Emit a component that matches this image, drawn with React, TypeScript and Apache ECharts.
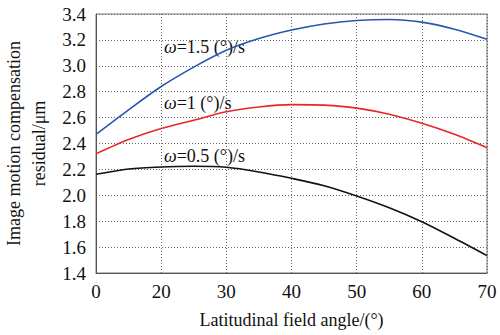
import React, { useEffect, useRef } from "react";
import * as echarts from "echarts";

const X_VALUES = [10, 15, 20, 25, 30, 35, 40, 45, 50, 55, 60, 65, 70];
const X_TICK_LABELS = ["0", "20", "30", "40", "50", "60", "70"];
const OMEGA_15 = [2.47, 2.66, 2.84, 2.99, 3.12, 3.21, 3.276, 3.323, 3.35, 3.358, 3.337, 3.283, 3.205];
const OMEGA_1 = [2.32, 2.43, 2.515, 2.58, 2.645, 2.682, 2.7, 2.696, 2.673, 2.626, 2.556, 2.471, 2.368];
const OMEGA_05 = [2.162, 2.203, 2.219, 2.224, 2.216, 2.18, 2.131, 2.074, 1.995, 1.904, 1.796, 1.668, 1.534];
const SERIES_NAMES = ["=1.5 (°)/s", "=1 (°)/s", "=0.5 (°)/s"];

const FONT = "Liberation Serif";

export default function App() {
  const ref = useRef<HTMLDivElement>(null);
  useEffect(() => {
    if (!ref.current) return;
    const chart = echarts.init(ref.current, null, { renderer: "svg" });
    const toPairs = (ys: number[]) => X_VALUES.map((x, i) => [x, ys[i]]);
    const mkLabel = (name: string, x: number, y: number) => ({
      type: "text",
      left: x,
      top: y,
      style: {
        text: "{i|ω}{n|" + name + "}",
        fontFamily: FONT,
        fontSize: 18,
        fill: "#111",
        rich: {
          i: { fontStyle: "italic", fontFamily: FONT, fontSize: 18, fill: "#111" },
          n: { fontFamily: FONT, fontSize: 18, fill: "#111" },
        },
      },
    });
    chart.setOption({
      animation: false,
      backgroundColor: "#fff",
      textStyle: { fontFamily: FONT },
      grid: {
        left: 96, right: 13, top: 14, bottom: 62,
        show: true, borderColor: "#777", borderWidth: 1,
        outerBoundsMode: "none", containLabel: false,
      },
      xAxis: {
        type: "value",
        min: 10,
        max: 70,
        interval: 10,
        name: "Latitudinal field angle/(°)",
        nameLocation: "middle",
        nameGap: 38,
        nameTextStyle: { fontSize: 18, color: "#111", fontFamily: FONT },
        axisLine: { show: true, lineStyle: { color: "#555" } },
        axisTick: { show: false },
        axisLabel: {
          fontSize: 19,
          color: "#111",
          margin: 9,
          fontFamily: FONT,
          formatter: (v: number) => X_TICK_LABELS[Math.round((v - 10) / 10)] ?? "",
        },
        splitLine: { show: true, lineStyle: { color: "#666", type: [1, 2], width: 1 } },
      },
      yAxis: {
        type: "value",
        min: 1.4,
        max: 3.4,
        interval: 0.2,
        name: "Image motion compensation\nresidual/μm",
        nameLocation: "middle",
        nameRotate: 90,
        nameGap: 44,
        nameTextStyle: { fontSize: 18, color: "#111", lineHeight: 25, fontFamily: FONT },
        axisLine: { show: true, lineStyle: { color: "#555" } },
        axisTick: { show: false },
        axisLabel: {
          fontSize: 19,
          color: "#111",
          margin: 10,
          fontFamily: FONT,
          formatter: (v: number) => v.toFixed(1),
        },
        splitLine: { show: true, lineStyle: { color: "#666", type: [1, 2], width: 1 } },
      },
      graphic: [
        mkLabel(SERIES_NAMES[0], 164, 38),
        mkLabel(SERIES_NAMES[1], 164, 94),
        mkLabel(SERIES_NAMES[2], 164, 147),
      ],
      series: [
        { type: "line", data: toPairs(OMEGA_15), smooth: 0.3, symbol: "none", lineStyle: { color: "#2a55b2", width: 1.6 } },
        { type: "line", data: toPairs(OMEGA_1), smooth: 0.3, symbol: "none", lineStyle: { color: "#e8262a", width: 1.6 } },
        { type: "line", data: toPairs(OMEGA_05), smooth: 0.3, symbol: "none", lineStyle: { color: "#111", width: 1.6 } },
      ],
    });
    return () => chart.dispose();
  }, []);
  return <div ref={ref} style={{ position: "absolute", left: 0, top: 0, width: 500, height: 335 }} />;
}
